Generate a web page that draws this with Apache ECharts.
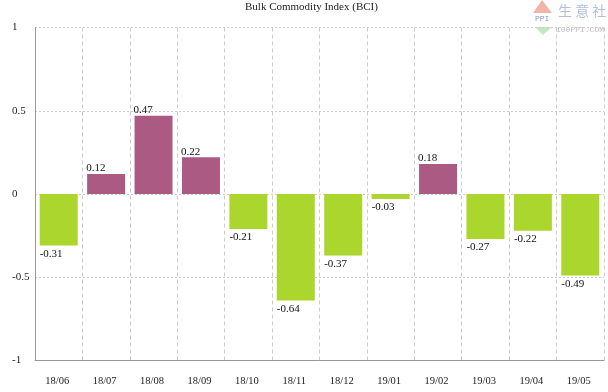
<!DOCTYPE html>
<html>
<head>
<meta charset="utf-8">
<style>
  html, body { margin: 0; padding: 0; background: #fff; }
  #main { width: 608px; height: 392px; }
</style>
<script src="https://cdn.jsdelivr.net/npm/echarts@6/dist/echarts.min.js"></script>
</head>
<body>
<div id="main"></div>
<script>
const months = ['18/06', '18/07', '18/08', '18/09', '18/10', '18/11', '18/12', '19/01', '19/02', '19/03', '19/04', '19/05']
const bci = [-0.31, 0.12, 0.47, 0.22, -0.21, -0.64, -0.37, -0.03, 0.18, -0.27, -0.22, -0.49]

const FONT = '"Liberation Serif", serif'
const MONO = '"Liberation Mono", monospace'
const UP = '#ab5a84'
const DOWN = '#abd62e'

let myChart = echarts.init(document.getElementById('main'), null, { renderer: 'canvas' })

const option = {
  animation: false,
  backgroundColor: '#fff',
  title: {
    text: 'Bulk Commodity Index (BCI)',
    left: 240,
    top: -3,
    textStyle: { fontFamily: FONT, fontSize: 11, fontWeight: 'normal', color: '#222' }
  },
  grid: { left: 35, right: 4, top: 27.5, bottom: 31.5 },
  xAxis: {
    type: 'category',
    data: months,
    axisLine: { onZero: false, lineStyle: { color: '#999', width: 1 } },
    axisTick: { show: false },
    axisLabel: { fontFamily: FONT, fontSize: 10.5, color: '#222', margin: 15, padding: [0, 3, 0, 0] },
    splitLine: { show: true, lineStyle: { color: '#ccc', type: [4, 3] } }
  },
  yAxis: {
    type: 'value',
    min: -1,
    max: 1,
    interval: 0.5,
    axisLine: { show: true, lineStyle: { color: '#999', width: 1 } },
    axisTick: { show: false },
    axisLabel: { fontFamily: FONT, fontSize: 11, color: '#222', align: 'left', margin: 23, padding: [1, 0, 0, 0] },
    splitLine: { show: true, lineStyle: { color: '#ccc', type: [2, 2] } }
  },
  series: [{
    type: 'bar',
    barWidth: 38,
    data: bci.map(v => ({
      value: v,
      itemStyle: { color: v >= 0 ? UP : DOWN },
      label: { position: v >= 0 ? [-1, -11] : [0, '100%'], offset: v >= 0 ? [0, 0] : [0, 3] }
    })),
    label: {
      show: true,
      fontFamily: FONT,
      fontSize: 11,
      color: '#111'
    }
  }],
  graphic: [
    { type: 'polygon', shape: { points: [[542, 0], [533, 13], [552, 13]] }, style: { fill: '#f0b5a8' } },
    { type: 'polygon', shape: { points: [[535, 27], [552, 27], [543, 35]] }, style: { fill: '#c3e8c0' } },
    { type: 'text', left: 535, top: 15, style: { text: 'PPI', fontFamily: MONO, fontSize: 8, fill: '#8b98c8' } },
    { type: 'text', left: 558, top: 4, style: { text: '生 意 社', fontFamily: '"Noto Sans CJK SC"', fontSize: 14, fill: '#b4bfdc' } },
    { type: 'text', left: 556, top: 26, style: { text: '100PPI.COM', fontFamily: MONO, fontSize: 8, fill: '#bdbdbd' } }
  ]
}
myChart.setOption(option)
</script>
</body>
</html>
